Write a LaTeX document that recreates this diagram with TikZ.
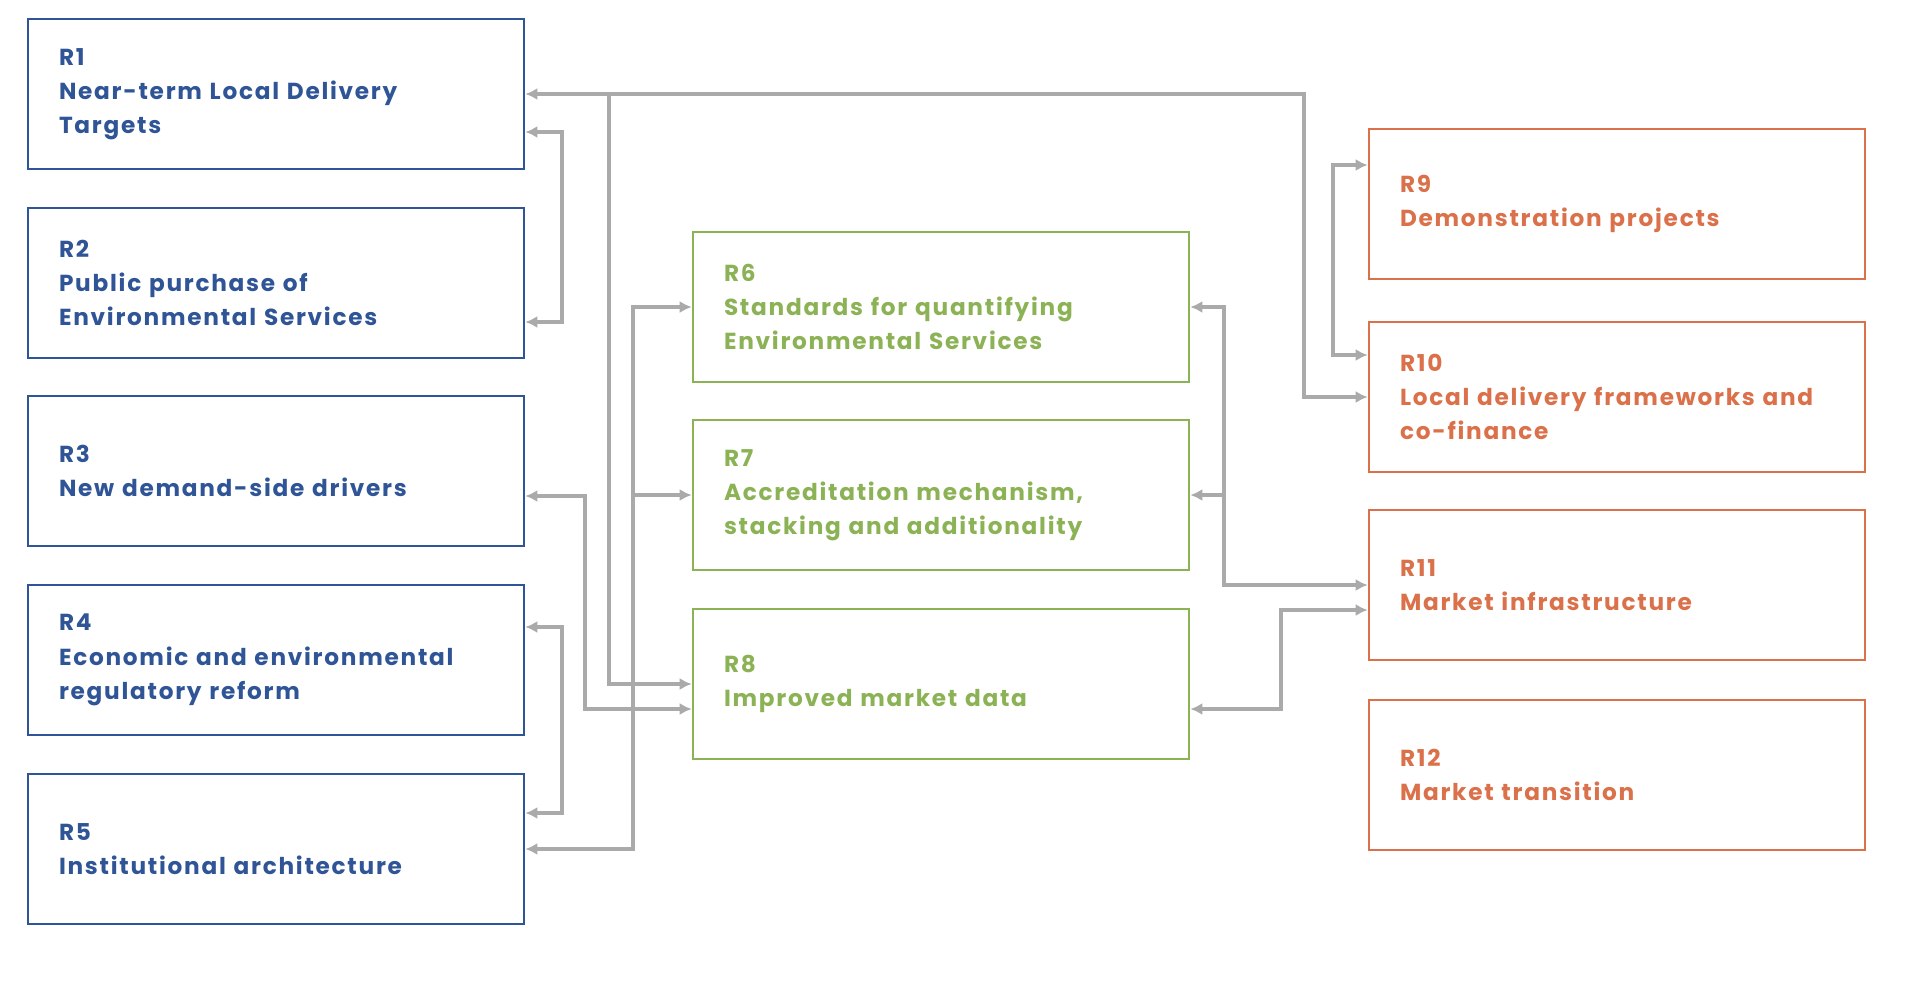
\documentclass[tikz,border=0pt]{standalone}
\usepackage{fontspec}
\setmainfont{Poppins}[LetterSpace=7.5]
\usepackage{xcolor}
\usetikzlibrary{arrows.meta}

\definecolor{rblue}{RGB}{47,85,151}
\definecolor{rgreen}{RGB}{140,178,86}
\definecolor{rorange}{RGB}{218,113,74}
\definecolor{rgrey}{RGB}{170,170,170}

\begin{document}
\begin{tikzpicture}[x=0.5pt, y=-0.5pt,
    >={Latex[length=6pt,width=6pt]},
    box/.style={draw, rectangle, line width=1.3pt, minimum width=248pt, minimum height=75pt,
      inner xsep=15.5pt, text width=217pt, align=left,
      font=\bfseries\fontsize{11.6}{17.1}\selectfont},
    bluebox/.style={box, draw=rblue, text=rblue},
    greenbox/.style={box, draw=rgreen, text=rgreen},
    orangebox/.style={box, draw=rorange, text=rorange},
    link/.style={draw=rgrey, line width=2pt}]
  \useasboundingbox (0,0) rectangle (1920,981);

  \node[bluebox] (r1) at (276,94)  {R1\\Near-term Local Delivery\\Targets};
  \node[bluebox] (r2) at (276,283) {R2\\Public purchase of\\Environmental Services};
  \node[bluebox] (r3) at (276,471) {R3\\New demand-side drivers};
  \node[bluebox] (r4) at (276,660) {R4\\Economic and environmental\\regulatory reform};
  \node[bluebox] (r5) at (276,849) {R5\\Institutional architecture};

  \node[greenbox] (r6) at (941,307) {R6\\Standards for quantifying\\Environmental Services};
  \node[greenbox] (r7) at (941,495) {R7\\Accreditation mechanism,\\stacking and additionality};
  \node[greenbox] (r8) at (941,684) {R8\\Improved market data};

  \node[orangebox] (r9)  at (1617,204) {R9\\Demonstration projects};
  \node[orangebox] (r10) at (1617,397) {R10\\Local delivery frameworks and\\co-finance};
  \node[orangebox] (r11) at (1617,585) {R11\\Market infrastructure};
  \node[orangebox] (r12) at (1617,775) {R12\\Market transition};

  % trunks
  \coordinate (k1) at (609,0);
  \coordinate (k2) at (633,0);
  \coordinate (k3) at (1224,0);
  \coordinate (k4) at (1304,0);

  \draw[link,<->] ([yshift=-19pt]r1.east) -- ++(37,0) |- ([yshift=-19.5pt]r2.east);
  \draw[link,<->] ([yshift=16.5pt]r4.east) -- ++(37,0) |- ([yshift=18pt]r5.east);
  \draw[link,<->] ([yshift=-12.5pt]r3.east) -- ++(60,0) |- ([yshift=-12.5pt]r8.west);

  \draw[link,<->] (r1.east) -| (k4 |- r10.west) -- (r10.west);
  \draw[link,->] (k1 |- r1.east) |- (r8.west);

  \draw[link,<->] (r5.east) -| (k2 |- r6.west) -- (r6.west);
  \draw[link,->] (k2 |- r7.west) -- (r7.west);

  \draw[link,<->] (r6.east) -| (k3 |- r11.west) -- (r11.west);
  \draw[link,->] (k3 |- r7.east) -- (r7.east);

  \draw[link,<->] ([yshift=-12.5pt]r8.east) -- ++(91,0) |- ([yshift=-12.5pt]r11.west);
  \draw[link,<->] ([yshift=19.5pt]r9.west) -- ++(-35,0) |- ([yshift=21pt]r10.west);
\end{tikzpicture}
\end{document}
